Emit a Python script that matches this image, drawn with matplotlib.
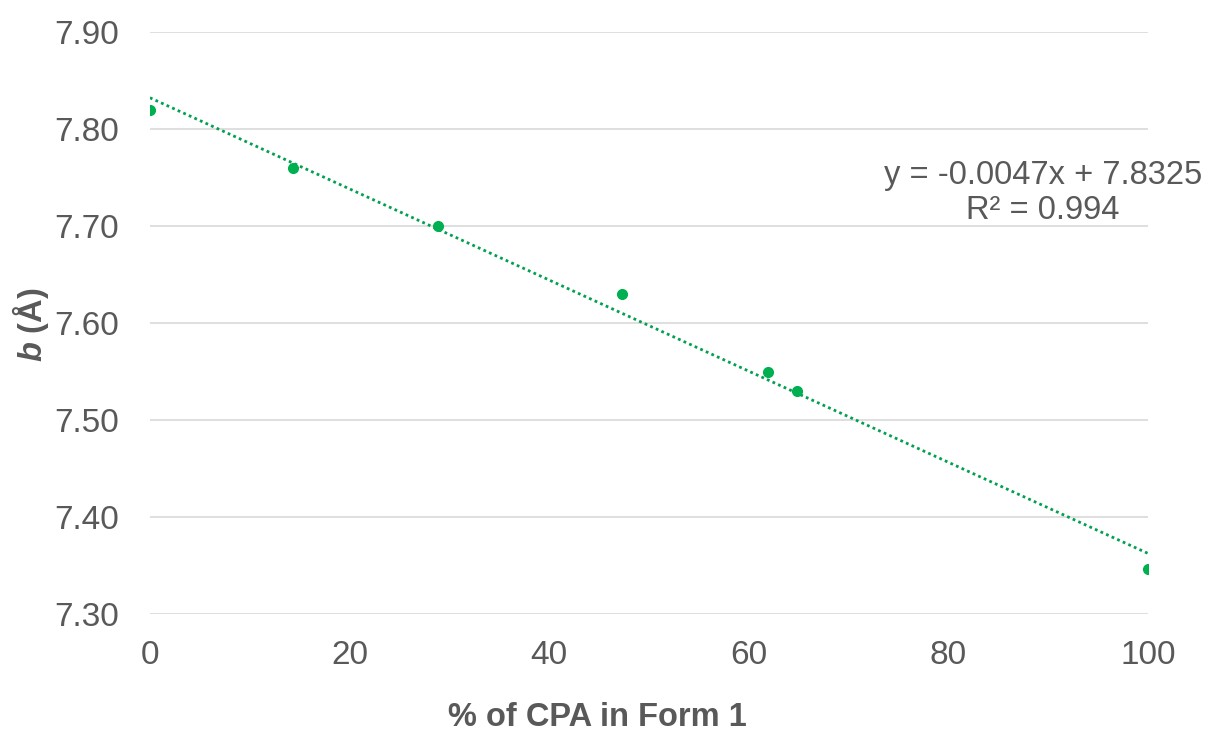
import matplotlib.pyplot as plt
import numpy as np

# data
pct_cpa = [0, 14.3, 28.9, 47.3, 61.9, 64.8, 100]
b_axis = [7.82, 7.76, 7.70, 7.63, 7.55, 7.53, 7.346]
slope = -0.0047
intercept = 7.8325
r2 = 0.994
xticks = [0, 20, 40, 60, 80, 100]
yticks = [7.30, 7.40, 7.50, 7.60, 7.70, 7.80, 7.90]

plt.rcParams['font.family'] = ['Liberation Sans', 'DejaVu Sans']
plt.rcParams['mathtext.fontset'] = 'custom'
plt.rcParams['mathtext.bfit'] = 'Liberation Sans:italic:bold'
plt.rcParams['mathtext.bf'] = 'Liberation Sans:bold'
plt.rcParams['mathtext.rm'] = 'Liberation Sans'

grey = '#595959'
fig = plt.figure(figsize=(12.09, 7.34), dpi=100)
ax = fig.add_axes([0.124, 0.1635, 0.8255, 0.7925])

# trendline
tx = np.array([0, 100])
ax.plot(tx, slope * tx + intercept, linestyle=(0, (1, 1.2)), color='#00a050', lw=2.0, zorder=2)
ax.plot(pct_cpa, b_axis, 'o', color='#00b050', markersize=7, zorder=3)

ax.set_xlim(0, 100)
ax.set_ylim(7.30, 7.90)
ax.set_xticks(xticks)
ax.set_yticks(yticks)
ax.set_yticklabels(['%.2f' % v for v in yticks])
ax.tick_params(length=0, labelsize=24, colors=grey)
ax.tick_params(axis='x', pad=19)
ax.tick_params(axis='y', pad=22)
ax.grid(axis='y', color='#d9d9d9', lw=1.2)
ax.set_axisbelow(True)
for s in ax.spines.values():
    s.set_visible(False)

fig.text(0.494, 0.0218, '% of CPA in Form 1', ha='center', va='center',
         fontsize=23.5, fontweight='bold', color=grey)
fig.text(0.025, 0.557, r'$\mathbfit{b}$ $\mathbf{(Å)}$', ha='center', va='center',
         rotation=90, fontsize=23.5, color=grey)

fig.text(0.8627, 0.737, 'y = -0.0047x + 7.8325\nR² = 0.994', ha='center', va='center',
         fontsize=23.5, color=grey, linespacing=1.15)

fig.savefig('out.png', dpi=100)
